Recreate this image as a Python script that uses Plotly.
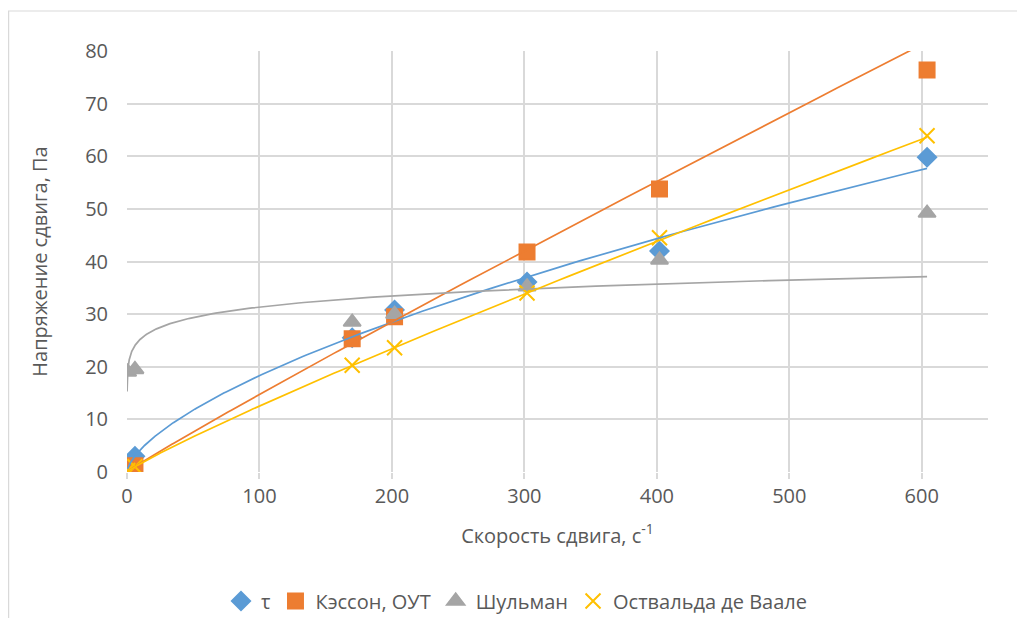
import numpy as np
import plotly.graph_objects as go

# shear rate, 1/s
shear_rate = [0.5, 6, 170, 202, 302, 402, 604]

# measured / model shear stress, Pa
tau = [0.4, 3.0, 25.5, 30.8, 36.1, 42.0, 59.8]
casson = [0.3, 1.2, 25.3, 29.5, 41.8, 53.8, 76.4]
shulman = [19.0, 19.5, 28.5, 30.0, 35.2, 40.3, 49.2]
ostwald = [0.3, 1.0, 20.3, 23.6, 34.0, 44.5, 63.9]

# power trendlines y = a * x^b
trend_tau = (0.97, 0.638)
trend_casson = (0.184, 0.952)
trend_shulman = (20.3, 0.0943)
trend_ostwald = (0.196, 0.903)

blue, orange, grey, gold = "#5B9BD5", "#ED7D31", "#A5A5A5", "#FFC000"
txt = "#595959"
grid = "#D9D9D9"
font = "Open Sans, Liberation Sans, sans-serif"

fig = go.Figure()

series = [
    ("τ", tau, blue, "diamond", 14),
    ("Кэссон, ОУТ", casson, orange, "square", 15),
    ("Шульман", shulman, grey, "triangle-up", 15),
    ("Оствальда де Ваале", ostwald, gold, "x-thin-open", 15),
]
for name, ys, col, sym, size in series:
    fig.add_trace(go.Scatter(
        x=shear_rate, y=ys, mode="markers", name=name,
        marker=dict(symbol=sym, size=size, color=col,
                    line=dict(color=col, width=2)),
    ))

trends = [
    (trend_tau, blue, shear_rate[0]),
    (trend_casson, orange, shear_rate[0]),
    (trend_shulman, grey, 0.05),
    (trend_ostwald, gold, shear_rate[0]),
]
for (a, b), col, x0 in trends:
    xs = np.geomspace(x0, shear_rate[-1], 300)
    fig.add_trace(go.Scatter(
        x=xs, y=a * xs ** b, mode="lines", showlegend=False,
        hoverinfo="skip", line=dict(color=col, width=1.7),
    ))

# chart frame (runs off the right and bottom of the picture)
fig.add_shape(type="rect", xref="paper", yref="paper",
              x0=-0.1375, x1=1.2, y0=-0.5, y1=1.095,
              line=dict(color=grid, width=1.2), layer="below")

fig.update_layout(
    width=1017, height=610,
    margin=dict(l=119, r=37, t=43, b=146),
    paper_bgcolor="white", plot_bgcolor="white",
    font=dict(family=font, size=20, color=txt),
    showlegend=True,
    legend=dict(orientation="h", xref="container", yref="container",
                x=0.5, xanchor="center", y=0.028, yanchor="middle",
                font=dict(size=20, color=txt), itemwidth=30,
                tracegroupgap=0),
    xaxis=dict(
        range=[0, 650], tick0=0, dtick=100, showgrid=True, gridcolor=grid,
        gridwidth=1.5, zeroline=False, ticks="outside", ticklen=6,
        tickcolor=grid, tickwidth=1.5, tickfont=dict(size=20, color=txt),
        automargin=False,
        title=dict(text="Скорость сдвига, с<sup>-1</sup>", standoff=20,
                   font=dict(size=20, color=txt)),
    ),
    yaxis=dict(
        range=[0, 80], dtick=10, showgrid=True, gridcolor=grid, gridwidth=1.5,
        zeroline=False, ticks="", tickfont=dict(size=20, color=txt),
        ticklabelstandoff=18, automargin=False,
        title=dict(text="Напряжение сдвига, Па", standoff=32,
                   font=dict(size=20, color=txt)),
    ),
)

fig.write_html("out.html")
